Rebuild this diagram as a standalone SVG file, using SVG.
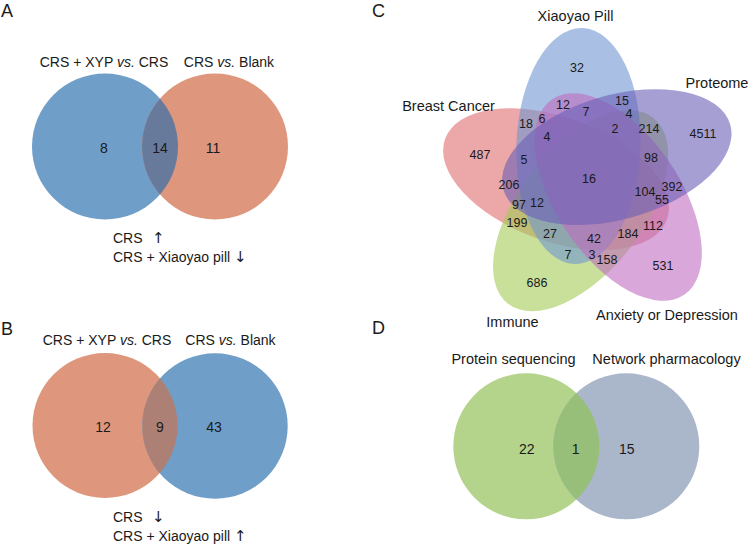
<svg xmlns="http://www.w3.org/2000/svg" width="752" height="548" viewBox="0 0 752 548">
<style>
text{font-family:"Liberation Sans",Arial,sans-serif;fill:#1a1a1a}
.pl{font-size:18px}
.lab{font-size:14px;text-anchor:middle}
.lab2{font-size:14.5px;text-anchor:middle}
.num{font-size:14px;text-anchor:middle}
.n5{font-size:12.5px;text-anchor:middle}
.sub{font-size:14px}
.ar{font-family:"DejaVu Sans",sans-serif;font-size:15px}
.blue{fill:#6f9ec8}
.orange{fill:#de977c}
.e{fill-opacity:0.6}
</style>
<defs>
<clipPath id="cA"><circle cx="105" cy="146.5" r="73"/></clipPath>
<clipPath id="cB"><circle cx="105" cy="425.5" r="72.5"/></clipPath>
<clipPath id="cD"><circle cx="526.3" cy="446.3" r="73"/></clipPath>
</defs>
<rect width="752" height="548" fill="#fff"/>

<!-- Panel A -->
<g id="panelA">
<text class="pl" x="1" y="17">A</text>
<g id="A-xyp"><circle class="blue" cx="105" cy="146.5" r="73"/><text class="lab" x="104" y="67">CRS + XYP <tspan font-style="italic">vs.</tspan> CRS</text></g>
<g id="A-blank"><circle class="orange" cx="215" cy="146.5" r="73"/><text class="lab" x="229" y="67">CRS <tspan font-style="italic">vs.</tspan> Blank</text></g>
<circle cx="215" cy="146.5" r="73" fill="#677a9b" clip-path="url(#cA)"/>
<text class="num" x="104" y="153">8</text>
<text class="num" x="160" y="153">14</text>
<text class="num" x="213" y="153">11</text>
<text class="sub" x="113" y="243">CRS<tspan class="ar" x="152">↑</tspan></text>
<text class="sub" x="113" y="262">CRS + Xiaoyao pill <tspan class="ar">↓</tspan></text>
</g>

<!-- Panel B -->
<g id="panelB">
<text class="pl" x="1" y="335">B</text>
<g id="B-xyp"><circle class="orange" cx="105" cy="425.5" r="72.5"/><text class="lab" x="107" y="345">CRS + XYP <tspan font-style="italic">vs.</tspan> CRS</text></g>
<g id="B-blank"><circle class="blue" cx="215" cy="426" r="72.7"/><text class="lab" x="230.5" y="345">CRS <tspan font-style="italic">vs.</tspan> Blank</text></g>
<circle cx="215" cy="426" r="72.7" fill="#ad8075" clip-path="url(#cB)"/>
<text class="num" x="103" y="432">12</text>
<text class="num" x="160" y="432">9</text>
<text class="num" x="214" y="432">43</text>
<text class="sub" x="113" y="522">CRS<tspan class="ar" x="152">↓</tspan></text>
<text class="sub" x="113" y="541">CRS + Xiaoyao pill <tspan class="ar">↑</tspan></text>
</g>

<!-- Panel C -->
<g id="panelC">
<text class="pl" x="372" y="17">C</text>
<g id="C-breast"><ellipse class="e" fill="#df6e6e" rx="118" ry="62" transform="translate(556,179.2) rotate(20)"/><text class="lab2" x="448.5" y="111">Breast Cancer</text></g>
<g id="C-immune"><ellipse class="e" fill="#a3cb57" rx="118" ry="62" transform="translate(580.6,210.7) rotate(128)"/><text class="lab2" x="512.5" y="327">Immune</text></g>
<g id="C-xiaoyao"><ellipse class="e" fill="#7096d2" rx="118" ry="62" transform="translate(578.4,146) rotate(92)"/><text class="lab2" x="575.5" y="21">Xiaoyao Pill</text></g>
<g id="C-anxiety"><ellipse class="e" fill="#c06cc0" rx="118" ry="62" transform="translate(618.2,197) rotate(56)"/><text class="lab2" x="667" y="320">Anxiety or Depression</text></g>
<g id="C-proteome"><ellipse class="e" fill="#6b5fb6" rx="118" ry="62" transform="translate(616.8,157.1) rotate(-16)"/><text class="lab2" x="717" y="88">Proteome</text></g>
<g id="C-counts">
<text class="n5" x="577" y="71.5">32</text>
<text class="n5" x="563" y="108.5">12</text>
<text class="n5" x="586" y="115.5">7</text>
<text class="n5" x="622" y="104.5">15</text>
<text class="n5" x="629" y="117.5">4</text>
<text class="n5" x="526" y="127.5">18</text>
<text class="n5" x="542" y="122.5">6</text>
<text class="n5" x="547" y="140.5">4</text>
<text class="n5" x="615" y="132.5">2</text>
<text class="n5" x="649" y="132.5">214</text>
<text class="n5" x="703" y="137.5">4511</text>
<text class="n5" x="480" y="158.5">487</text>
<text class="n5" x="524" y="163.5">5</text>
<text class="n5" x="651" y="161.5">98</text>
<text class="n5" x="509" y="188.5">206</text>
<text class="n5" x="589" y="182.5">16</text>
<text class="n5" x="645" y="195.5">104</text>
<text class="n5" x="672" y="190.5">392</text>
<text class="n5" x="662" y="203.5">55</text>
<text class="n5" x="519" y="208.5">97</text>
<text class="n5" x="537" y="206.5">12</text>
<text class="n5" x="517" y="226.5">199</text>
<text class="n5" x="550" y="237.5">27</text>
<text class="n5" x="594" y="242.5">42</text>
<text class="n5" x="628" y="237.5">184</text>
<text class="n5" x="653" y="229.5">112</text>
<text class="n5" x="568" y="258.5">7</text>
<text class="n5" x="592" y="258.5">3</text>
<text class="n5" x="607" y="263.5">158</text>
<text class="n5" x="663" y="269.5">531</text>
<text class="n5" x="537" y="286.5">686</text>
</g>
</g>

<!-- Panel D -->
<g id="panelD">
<text class="pl" x="372" y="334">D</text>
<g id="D-protein"><circle fill="#b3d48a" cx="526.3" cy="446.3" r="73"/><text class="lab2" x="513.5" y="364">Protein sequencing</text></g>
<g id="D-network"><circle fill="#aab6ca" cx="626.3" cy="446.3" r="73"/><text class="lab2" x="666.5" y="364">Network pharmacology</text></g>
<circle cx="626.3" cy="446.3" r="73" fill="#97bf79" clip-path="url(#cD)"/>
<text class="num" x="526.7" y="453.5">22</text>
<text class="num" x="575.7" y="453.5">1</text>
<text class="num" x="626.7" y="453.5">15</text>
</g>
</svg>
